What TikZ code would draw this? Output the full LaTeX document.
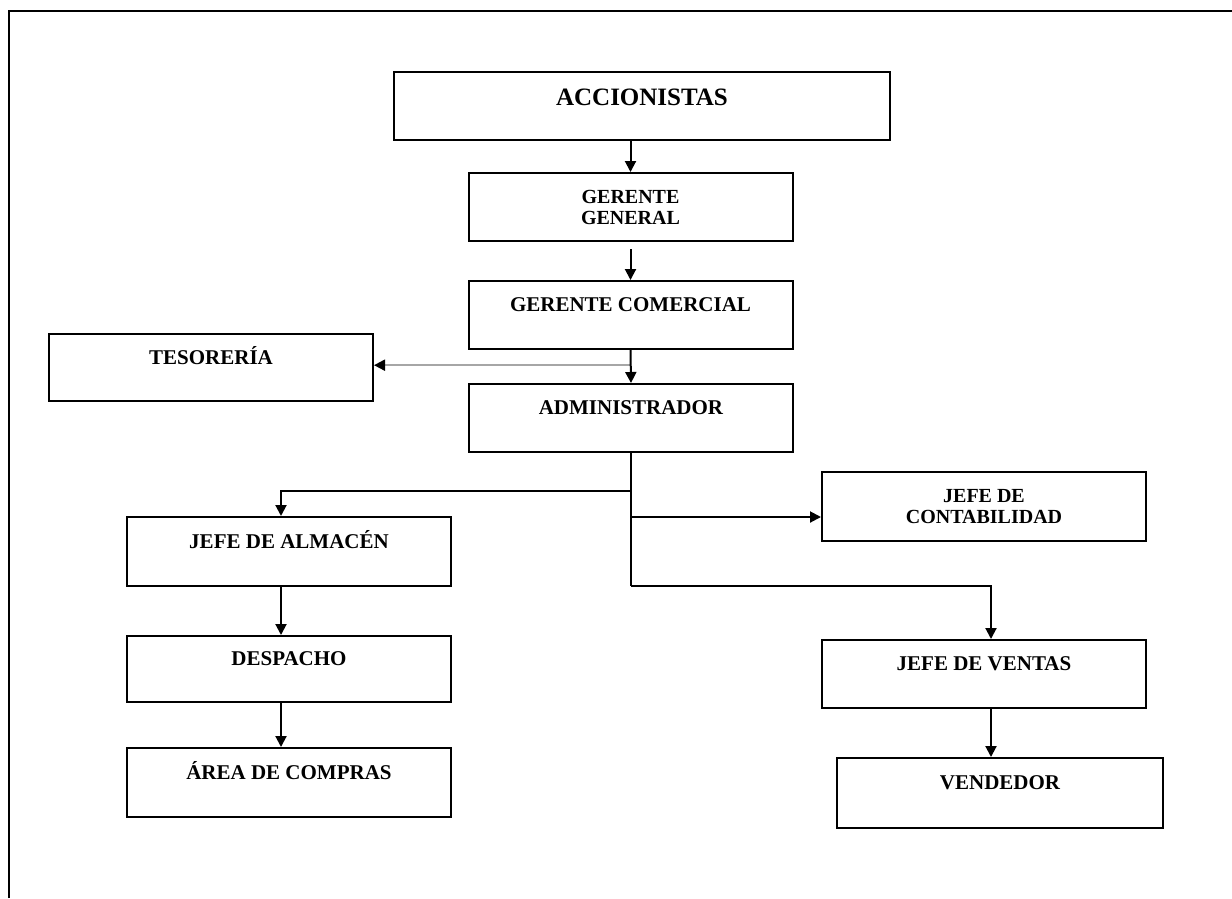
\documentclass[tikz,border=0pt]{standalone}
\usepackage{fontspec}
\setmainfont{Liberation Serif}
\usepackage{tikz}
\usetikzlibrary{arrows.meta}
\usetikzlibrary{calc}

\begin{document}
\begin{tikzpicture}[x=1pt,y=-1pt]
\tikzstyle{caja} = [draw, line width=2pt, minimum width=324pt, minimum height=68pt, inner sep=0pt, font=\fontsize{21}{21}\selectfont\bfseries, text height=14pt, text depth=21pt]
\tikzstyle{doble} = [draw, line width=2pt, minimum width=324pt, minimum height=68pt, inner sep=0pt, align=center, font=\fontsize{20}{21}\selectfont\bfseries]
\tikzstyle{flecha} = [line width=2pt, -{Triangle[length=11pt,width=11pt]}]
\useasboundingbox (0,0) rectangle (1232,898);
\draw[line width=2.4pt] (9,898) -- (9,11) -- (1232,11);
% cabeza
\node[caja, minimum width=496pt, font=\fontsize{25}{25}\selectfont\bfseries, text height=17pt, text depth=19pt] (acc) at (642,106) {ACCIONISTAS};
\node[doble] (gg) at (630.5,207) {GERENTE\\GENERAL};
\node[caja] (gc) at (630.5,315) {GERENTE COMERCIAL};
\node[caja, minimum height=67pt] (tes) at (211,367.5) {TESORERÍA};
\node[caja] (admin) at (631,418) {ADMINISTRADOR};
% ramas
\node[doble, minimum height=69pt] (cont) at (984,506.5) {JEFE DE\\CONTABILIDAD};
\node[caja, minimum height=69pt] (ja) at (289,551.5) {JEFE DE ALMACÉN};
\node[caja, minimum height=66pt] (desp) at (289,669) {DESPACHO};
\node[caja, minimum height=69pt] (area) at (289,782.5) {ÁREA DE COMPRAS};
\node[caja] (jv) at (984,674) {JEFE DE VENTAS};
\node[caja, minimum width=326pt, minimum height=70pt] (vend) at (1000,793) {VENDEDOR};

\coordinate (izq) at (281,491);
\coordinate (der) at (991,586);
\coordinate (tes-p) at ($(gc.south)!0.46!(admin.north)$);
\coordinate (cont-p) at (631,517);

\draw[flecha] (gg.north |- acc.south) -- (gg.north);
\draw[flecha] ([yshift=-7pt]gg.south) -- (gc.north);
\draw[line width=2pt, black!35, -{Triangle[length=11pt,width=11pt,black]}] (tes-p) -- (tes.east |- tes-p);
\draw[flecha] (gc.south) -- (admin.north);
\draw[line width=2pt] (admin.south) -- (admin.south |- der);
\draw[flecha] (admin.south |- izq) -- (izq) -- (izq |- ja.north);
\draw[flecha] (cont-p) -- (cont.west |- cont-p);
\draw[flecha] (admin.south |- der) -- (der) -- (der |- jv.north);
\draw[flecha] (izq |- ja.south) -- (izq |- desp.north);
\draw[flecha] (izq |- desp.south) -- (izq |- area.north);
\draw[flecha] (der |- jv.south) -- (der |- vend.north);
\end{tikzpicture}
\end{document}
